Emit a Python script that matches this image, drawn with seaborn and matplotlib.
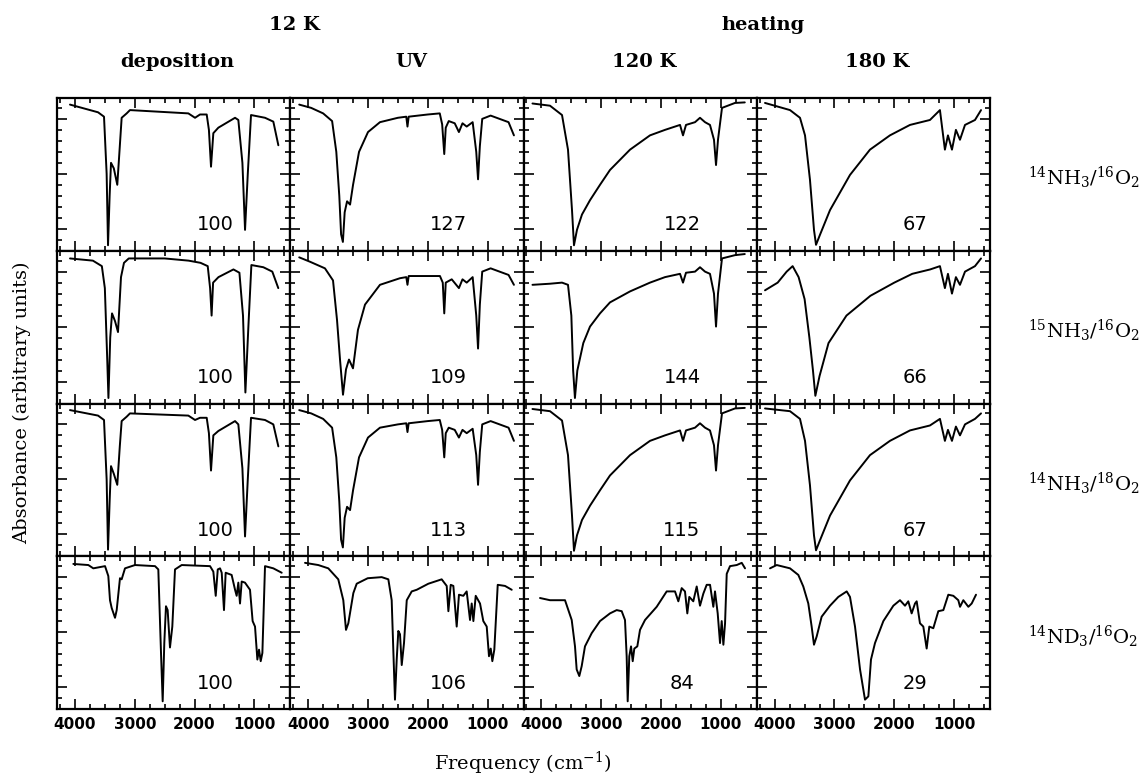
import matplotlib
matplotlib.use("Agg")
import matplotlib.pyplot as plt
import seaborn as sns
import pandas as pd
from matplotlib.ticker import MultipleLocator

# ---------------------------------------------------------------
# Spectra: wavenumber (cm^-1) and relative signal (arbitrary units)
# rows: sample mixtures, columns: deposition / UV / 120 K / 180 K
# ---------------------------------------------------------------
samples = [r"$^{14}$NH$_3$/$^{16}$O$_2$", r"$^{15}$NH$_3$/$^{16}$O$_2$",
           r"$^{14}$NH$_3$/$^{18}$O$_2$", r"$^{14}$ND$_3$/$^{16}$O$_2$"]
stages = ["deposition", "UV", "120 K", "180 K"]
tick_freqs = [4000, 3000, 2000, 1000]

# integrated band strengths relative to deposition (%)
pct_nh3_16 = [100, 127, 122, 67]
pct_n15h3_16 = [100, 109, 144, 66]
pct_nh3_18 = [100, 113, 115, 67]
pct_nd3_16 = [100, 106, 84, 29]

# --- 14NH3 / 16O2 ---
nh3_16_dep_nu = [4083, 3614, 3514, 3470, 3447, 3420, 3397, 3350, 3292, 3250, 3219, 3135, 3080, 2104, 1992, 1909,
                 1797, 1760, 1725, 1686, 1602, 1323, 1268, 1200, 1156, 1110, 1056, 822, 683, 599]
nh3_16_dep_ab = [1.13, 1.06, 1.02, 0.50, -0.15, 0.30, 0.60, 0.55, 0.40, 0.75, 1.01, 1.05, 1.08, 1.05, 1.01, 1.04,
                 1.04, 0.90, 0.565, 0.87, 0.92, 1.01, 0.99, 0.60, -0.01, 0.50, 1.035, 1.01, 0.975, 0.76]
nh3_16_uv_nu = [4150, 3950, 3750, 3600, 3530, 3480, 3450, 3420, 3390, 3350, 3300, 3250, 3150, 3000, 2800, 2500,
                2360, 2340, 2320, 2000, 1800, 1760, 1725, 1700, 1650, 1550, 1480, 1420, 1350, 1250, 1190, 1160,
                1130, 1090, 950, 800, 650, 560]
nh3_16_uv_ab = [1.13, 1.10, 1.05, 0.98, 0.70, 0.30, -0.05, -0.12, 0.15, 0.25, 0.22, 0.40, 0.70, 0.88, 0.97, 1.01,
                1.02, 0.93, 1.02, 1.04, 1.05, 0.95, 0.68, 0.92, 0.98, 0.96, 0.88, 0.96, 0.93, 0.97, 0.70, 0.45,
                0.75, 1.00, 1.03, 1.00, 0.97, 0.85]
nh3_16_120_nu = [4150, 3857, 3656, 3556, 3489, 3456, 3406, 3322, 3188, 3021, 2854, 2519, 2185, 1934, 1683, 1633,
                 1583, 1432, 1349, 1265, 1182, 1115, 1081, 1048, 981, 764, 600]
nh3_16_120_ab = [1.14, 1.12, 1.035, 0.72, 0.17, -0.15, -0.01, 0.13, 0.26, 0.40, 0.535, 0.72, 0.85, 0.90, 0.945,
                 0.85, 0.945, 0.97, 1.01, 0.97, 0.945, 0.81, 0.58, 0.81, 1.10, 1.145, 1.15]
nh3_16_180_nu = [4162, 3744, 3577, 3493, 3410, 3343, 3309, 3243, 3075, 2741, 2407, 2073, 1738, 1404, 1237, 1154,
                 1103, 1036, 970, 902, 818, 651, 550]
nh3_16_180_ab = [1.145, 1.08, 1.01, 0.85, 0.445, -0.01, -0.146, -0.055, 0.17, 0.49, 0.72, 0.85, 0.945, 0.99,
                 1.08, 0.72, 0.85, 0.72, 0.90, 0.81, 0.945, 0.99, 1.08]

# --- 15NH3 / 16O2 ---
n15h3_16_dep_nu = [4083, 3700, 3550, 3500, 3460, 3440, 3410, 3380, 3330, 3280, 3230, 3180, 3100, 2500, 2100, 1900,
                   1780, 1740, 1715, 1690, 1600, 1350, 1250, 1190, 1150, 1100, 1050, 850, 700, 600]
n15h3_16_dep_ab = [1.12, 1.10, 1.05, 0.85, 0.20, -0.15, 0.40, 0.62, 0.55, 0.45, 0.95, 1.08, 1.12, 1.12, 1.10, 1.08,
                   1.05, 0.85, 0.60, 0.90, 0.95, 1.02, 0.99, 0.60, -0.10, 0.50, 1.06, 1.04, 1.00, 0.85]
n15h3_16_uv_nu = [4150, 3970, 3720, 3585, 3518, 3468, 3418, 3368, 3318, 3251, 3168, 3050, 2800, 2466, 2360, 2340,
                  2320, 1797, 1750, 1725, 1700, 1600, 1480, 1420, 1350, 1250, 1190, 1160, 1130, 1090, 950, 800,
                  650, 560]
n15h3_16_uv_ab = [1.13, 1.09, 1.03, 0.92, 0.56, 0.20, -0.12, 0.11, 0.20, 0.12, 0.47, 0.70, 0.88, 0.94, 0.95, 0.88,
                  0.96, 0.96, 0.90, 0.62, 0.90, 0.93, 0.85, 0.93, 0.90, 0.95, 0.60, 0.30, 0.70, 1.00, 1.03, 1.00,
                  0.97, 0.88]
n15h3_16_120_nu = [4150, 3857, 3656, 3556, 3500, 3470, 3440, 3400, 3300, 3188, 3021, 2854, 2519, 2185, 1934, 1683,
                   1633, 1583, 1432, 1349, 1265, 1182, 1115, 1081, 1048, 981, 764, 600]
n15h3_16_120_ab = [0.88, 0.89, 0.90, 0.88, 0.60, 0.10, -0.15, 0.10, 0.35, 0.50, 0.62, 0.72, 0.82, 0.90, 0.95,
                   0.98, 0.90, 0.99, 1.00, 1.04, 1.00, 0.98, 0.80, 0.50, 0.80, 1.12, 1.15, 1.16]
n15h3_16_180_nu = [4162, 3950, 3800, 3700, 3600, 3500, 3420, 3360, 3320, 3250, 3100, 2800, 2400, 2000, 1700, 1400,
                   1237, 1154, 1103, 1036, 970, 902, 818, 651, 550]
n15h3_16_180_ab = [0.83, 0.90, 1.00, 1.05, 0.95, 0.75, 0.40, 0.10, -0.13, 0.05, 0.35, 0.60, 0.78, 0.90, 0.98,
                   1.02, 1.05, 0.85, 0.98, 0.80, 0.95, 0.88, 1.00, 1.05, 1.12]

# --- 14NH3 / 18O2 ---
nh3_18_dep_nu = [4083, 3614, 3514, 3470, 3447, 3420, 3397, 3350, 3292, 3250, 3219, 3135, 3080, 2104, 1992, 1909,
                 1797, 1760, 1725, 1686, 1602, 1323, 1268, 1200, 1156, 1110, 1056, 822, 683, 599]
nh3_18_dep_ab = [1.13, 1.08, 1.04, 0.50, -0.14, 0.30, 0.62, 0.55, 0.45, 0.80, 1.03, 1.07, 1.10, 1.08, 1.04, 1.06,
                 1.06, 0.92, 0.58, 0.90, 0.94, 1.03, 1.00, 0.60, -0.02, 0.50, 1.06, 1.04, 1.00, 0.80]
nh3_18_uv_nu = [4150, 3950, 3750, 3600, 3530, 3480, 3450, 3420, 3390, 3350, 3300, 3250, 3150, 3000, 2800, 2500,
                2360, 2340, 2320, 2000, 1800, 1760, 1725, 1700, 1650, 1550, 1480, 1420, 1350, 1250, 1190, 1160,
                1130, 1090, 950, 800, 650, 560]
nh3_18_uv_ab = [1.13, 1.10, 1.05, 0.97, 0.70, 0.30, -0.05, -0.12, 0.15, 0.25, 0.22, 0.40, 0.70, 0.88, 0.97, 1.00,
                1.01, 0.93, 1.01, 1.03, 1.04, 0.95, 0.70, 0.92, 0.97, 0.95, 0.88, 0.95, 0.92, 0.96, 0.72, 0.45,
                0.75, 1.00, 1.03, 1.00, 0.97, 0.85]
nh3_18_120_nu = [4150, 3857, 3656, 3556, 3489, 3456, 3406, 3322, 3188, 3021, 2854, 2519, 2185, 1934, 1683, 1633,
                 1583, 1432, 1349, 1265, 1182, 1115, 1081, 1048, 981, 764, 600]
nh3_18_120_ab = [1.14, 1.12, 1.035, 0.72, 0.17, -0.15, -0.01, 0.13, 0.26, 0.40, 0.535, 0.72, 0.85, 0.90, 0.945,
                 0.85, 0.945, 0.97, 1.01, 0.97, 0.945, 0.81, 0.58, 0.81, 1.10, 1.145, 1.15]
nh3_18_180_nu = [4162, 3744, 3577, 3493, 3410, 3343, 3309, 3243, 3075, 2741, 2407, 2073, 1738, 1404, 1237, 1154,
                 1103, 1036, 970, 902, 818, 651, 550]
nh3_18_180_ab = [1.145, 1.12, 1.05, 0.85, 0.445, -0.01, -0.146, -0.055, 0.17, 0.49, 0.72, 0.85, 0.945, 0.99,
                 1.05, 0.85, 0.95, 0.85, 0.98, 0.90, 1.00, 1.05, 1.10]

# --- 14ND3 / 16O2 ---
nd3_16_dep_nu = [4027, 3776, 3693, 3497, 3442, 3414, 3386, 3330, 3302, 3247, 3219, 3163, 2996, 2661, 2606, 2561,
                 2533, 2506, 2478, 2450, 2411, 2372, 2327, 2215, 1741, 1686, 1646, 1612, 1574, 1546, 1508, 1480,
                 1380, 1323, 1296, 1268, 1240, 1212, 1157, 1073, 1029, 989, 950, 922, 894, 866, 822, 683, 543]
nd3_16_dep_ab = [1.12, 1.11, 1.08, 1.10, 1.01, 0.79, 0.72, 0.63, 0.70, 0.99, 0.98, 1.08, 1.11, 1.10, 1.07, 0.31,
                 -0.13, 0.40, 0.735, 0.70, 0.36, 0.55, 1.07, 1.11, 1.10, 1.05, 0.83, 1.07, 1.08, 1.04, 0.70, 1.04,
                 1.02, 0.885, 0.83, 0.95, 0.76, 0.96, 0.95, 0.885, 0.60, 0.55, 0.25, 0.34, 0.235, 0.31, 1.10, 1.08,
                 1.04]
nd3_16_uv_nu = [4053, 3831, 3664, 3497, 3413, 3368, 3329, 3245, 3189, 3005, 2771, 2660, 2604, 2577, 2549, 2520,
                2493, 2465, 2436, 2398, 2352, 2269, 2185, 1991, 1768, 1684, 1656, 1617, 1573, 1517, 1479, 1406,
                1350, 1294, 1266, 1238, 1199, 1127, 1072, 1015, 977, 948, 921, 888, 831, 709, 597]
nd3_16_uv_ab = [1.13, 1.11, 1.08, 0.98, 0.79, 0.52, 0.58, 0.855, 0.94, 0.99, 1.00, 0.98, 0.79, 0.34, -0.115, 0.25,
                0.51, 0.48, 0.20, 0.40, 0.79, 0.87, 0.885, 0.94, 0.98, 0.92, 0.69, 0.93, 0.92, 0.55, 0.84, 0.83,
                0.87, 0.61, 0.76, 0.60, 0.83, 0.76, 0.60, 0.55, 0.28, 0.35, 0.235, 0.34, 0.93, 0.92, 0.885]
nd3_16_120_nu = [4024, 3857, 3606, 3494, 3439, 3411, 3367, 3327, 3272, 3160, 3021, 2854, 2742, 2658, 2603, 2575,
                 2558, 2531, 2502, 2474, 2447, 2397, 2352, 2268, 2073, 1906, 1767, 1711, 1655, 1600, 1561, 1528,
                 1461, 1404, 1349, 1293, 1237, 1181, 1126, 1098, 1053, 1014, 986, 958, 930, 902, 847, 735, 651,
                 596]
nd3_16_120_ab = [0.81, 0.79, 0.79, 0.61, 0.37, 0.16, 0.10, 0.19, 0.37, 0.49, 0.60, 0.67, 0.70, 0.69, 0.61, 0.28,
                 -0.13, 0.28, 0.37, 0.235, 0.35, 0.37, 0.52, 0.61, 0.73, 0.87, 0.87, 0.78, 0.90, 0.87, 0.67, 0.82,
                 0.78, 0.915, 0.74, 0.85, 0.93, 0.93, 0.73, 0.87, 0.67, 0.40, 0.60, 0.385, 0.58, 1.03, 1.10, 1.11,
                 1.13, 1.08]
nd3_16_180_nu = [4078, 3966, 3744, 3605, 3522, 3438, 3382, 3343, 3298, 3215, 3075, 2936, 2796, 2741, 2657, 2573,
                 2490, 2434, 2390, 2323, 2183, 2016, 1905, 1821, 1766, 1710, 1654, 1626, 1571, 1515, 1459, 1415,
                 1348, 1264, 1180, 1097, 1013, 930, 901, 846, 762, 706, 634]
nd3_16_180_ab = [1.08, 1.11, 1.08, 1.02, 0.915, 0.76, 0.55, 0.385, 0.46, 0.64, 0.74, 0.82, 0.87, 0.82, 0.55, 0.16,
                 -0.115, -0.085, 0.25, 0.40, 0.60, 0.74, 0.79, 0.74, 0.78, 0.67, 0.76, 0.78, 0.58, 0.55, 0.35, 0.55,
                 0.535, 0.69, 0.70, 0.84, 0.83, 0.79, 0.73, 0.79, 0.73, 0.76, 0.84]

spectra = {
    (0, 0): (nh3_16_dep_nu, nh3_16_dep_ab), (0, 1): (nh3_16_uv_nu, nh3_16_uv_ab),
    (0, 2): (nh3_16_120_nu, nh3_16_120_ab), (0, 3): (nh3_16_180_nu, nh3_16_180_ab),
    (1, 0): (n15h3_16_dep_nu, n15h3_16_dep_ab), (1, 1): (n15h3_16_uv_nu, n15h3_16_uv_ab),
    (1, 2): (n15h3_16_120_nu, n15h3_16_120_ab), (1, 3): (n15h3_16_180_nu, n15h3_16_180_ab),
    (2, 0): (nh3_18_dep_nu, nh3_18_dep_ab), (2, 1): (nh3_18_uv_nu, nh3_18_uv_ab),
    (2, 2): (nh3_18_120_nu, nh3_18_120_ab), (2, 3): (nh3_18_180_nu, nh3_18_180_ab),
    (3, 0): (nd3_16_dep_nu, nd3_16_dep_ab), (3, 1): (nd3_16_uv_nu, nd3_16_uv_ab),
    (3, 2): (nd3_16_120_nu, nd3_16_120_ab), (3, 3): (nd3_16_180_nu, nd3_16_180_ab),
}
percents = [pct_nh3_16, pct_n15h3_16, pct_nh3_18, pct_nd3_16]

# ---------------------------------------------------------------
sns.set_theme(style="ticks")
plt.rcParams["font.family"] = ["DejaVu Serif"]
plt.rcParams["mathtext.fontset"] = "dejavuserif"
for key in ("text.color", "axes.labelcolor", "xtick.color", "ytick.color", "axes.edgecolor"):
    plt.rcParams[key] = "black"

W, H = 1146, 776
fig = plt.figure(figsize=(W / 100, H / 100), dpi=100)
axes = fig.subplots(4, 4, sharex=True, sharey=True,
                    gridspec_kw=dict(wspace=0, hspace=0))
fig.subplots_adjust(left=57 / W, right=990 / W, bottom=1 - 709 / H, top=1 - 98 / H)

for r in range(4):
    for c in range(4):
        ax = axes[r, c]
        nu, ab = spectra[(r, c)]
        df = pd.DataFrame({"nu": nu, "ab": ab})
        sns.lineplot(data=df, x="nu", y="ab", ax=ax, color="black", linewidth=1.4,
                     estimator=None, sort=False)
        ax.set_xlim(4300, 400)
        ax.set_ylim(-0.2, 1.19)
        ax.set_xlabel("")
        ax.set_ylabel("")
        ax.xaxis.set_major_locator(MultipleLocator(1000))
        ax.xaxis.set_minor_locator(MultipleLocator(250))
        ax.yaxis.set_major_locator(MultipleLocator(0.5))
        ax.yaxis.set_minor_locator(MultipleLocator(0.1))
        ax.tick_params(which="both", direction="in", top=True, right=True,
                       labelleft=False, color="black", labelcolor="black", width=1.2)
        ax.tick_params(which="major", length=7)
        ax.tick_params(which="minor", length=3.5)
        for s in ax.spines.values():
            s.set_linewidth(1.6)
            s.set_color("black")
        ax.text(1650, 0.035, str(percents[r][c]), ha="center", va="center",
                fontsize=14, family="DejaVu Sans", color="black")
        if r == 3:
            ax.set_xticks(tick_freqs)
            ax.set_xticklabels([str(t) for t in tick_freqs], fontsize=11,
                               fontweight="bold", family="DejaVu Sans")
            ax.tick_params(axis="x", which="major", pad=6)
        else:
            ax.tick_params(axis="x", labelbottom=False)

# column headers
col_centers = [(57 + (c + 0.5) * 233.25) / W for c in range(4)]
for c, name in enumerate(stages):
    fig.text(col_centers[c] + 4 / W, 1 - 62 / H, name, ha="center", va="center",
             fontsize=14, fontweight="bold", color="black")
fig.text((57 + 233.25 + 4) / W, 1 - 25 / H, "12 K", ha="center", va="center",
         fontsize=14, fontweight="bold", color="black")
fig.text((57 + 3 * 233.25 + 6) / W, 1 - 25 / H, "heating", ha="center", va="center",
         fontsize=14, fontweight="bold", color="black")

# row labels
for r, lab in enumerate(samples):
    yc = 98 + (r + 0.5) * 152.75 + 4
    fig.text(1028 / W, 1 - yc / H, lab, ha="left", va="center", fontsize=14, color="black")

fig.text(22 / W, 1 - 403 / H, "Absorbance (arbitrary units)", rotation=90,
         ha="center", va="center", fontsize=14, color="black")
fig.text(523 / W, 1 - 763 / H, r"Frequency (cm$^{-1}$)", ha="center", va="center",
         fontsize=14, color="black")

fig.savefig("out.png", dpi=100)
